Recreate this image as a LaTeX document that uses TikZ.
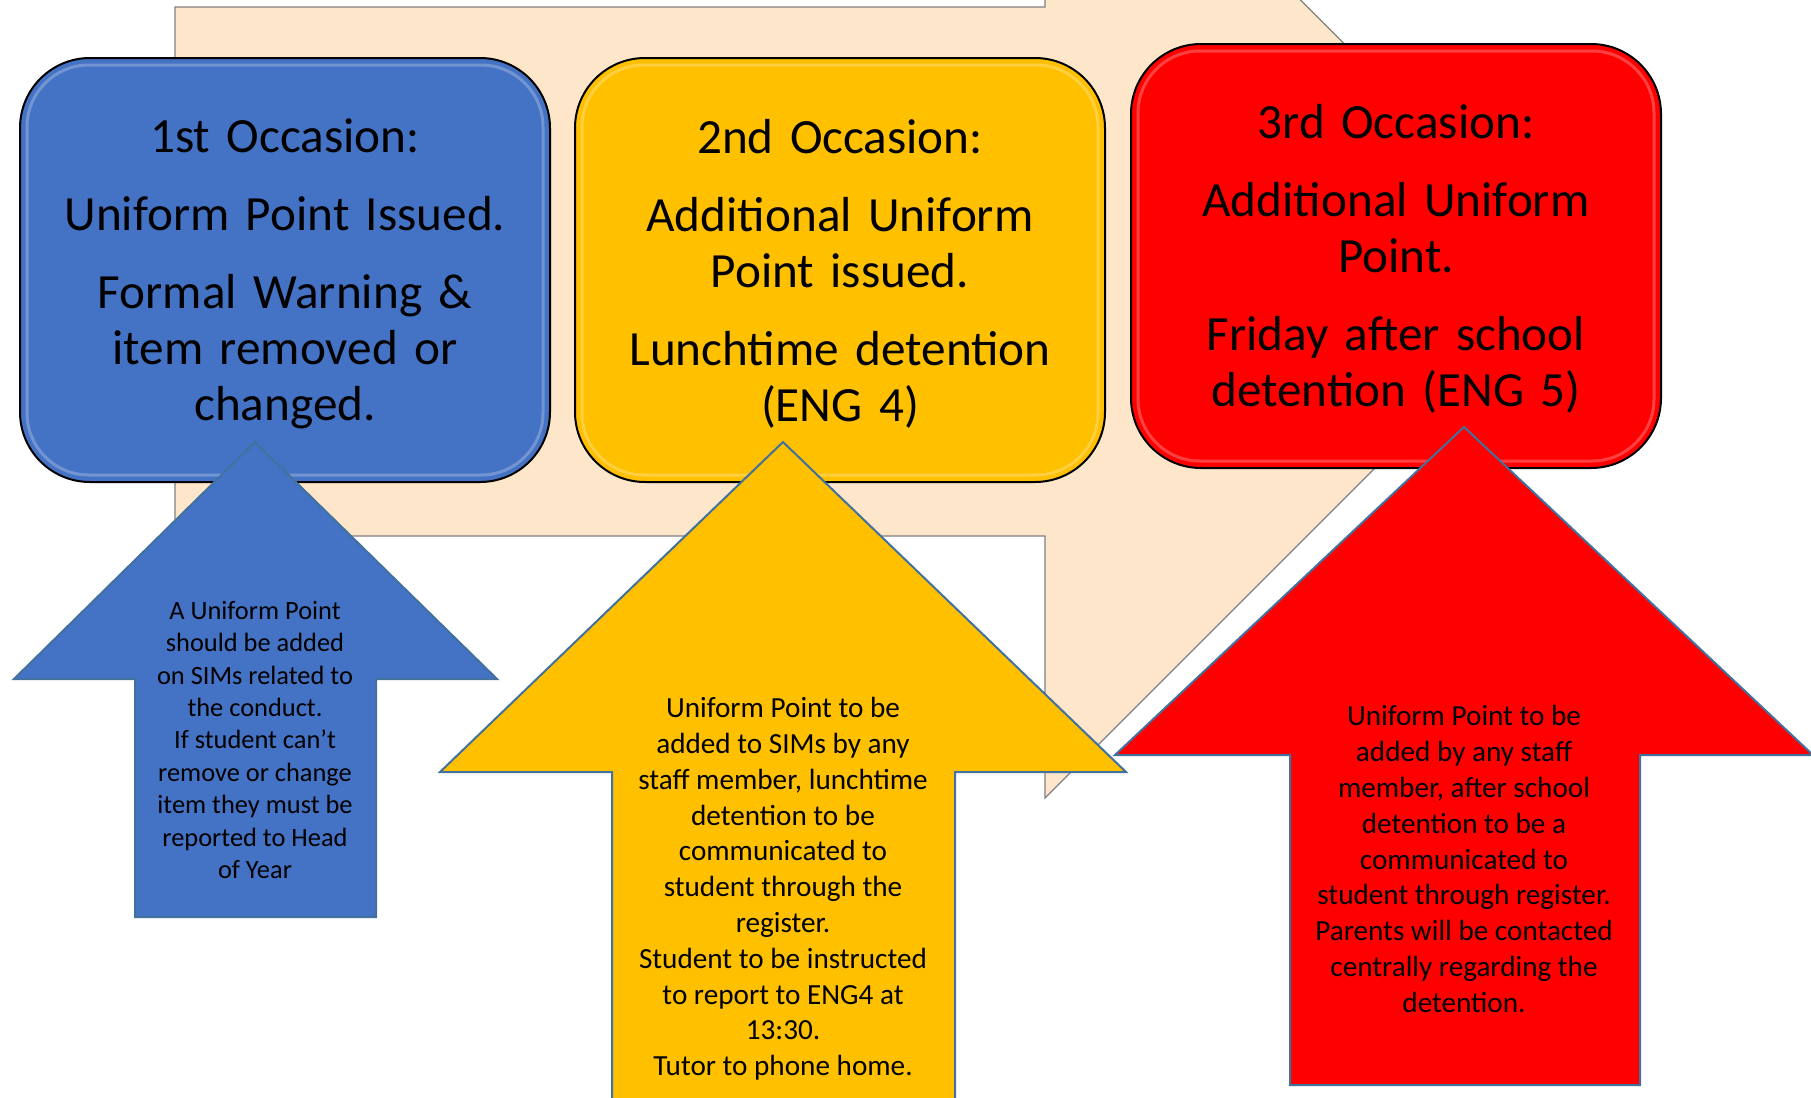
\documentclass[tikz,border=0pt]{standalone}
\usepackage{fontspec}
\setmainfont{Carlito}
\usepackage{tikz}
\definecolor{occblue}{HTML}{4472C4}
\definecolor{occyellow}{HTML}{FFC000}
\definecolor{occred}{HTML}{FF0000}
\definecolor{flowbg}{HTML}{FDE6CA}
\definecolor{arrowedge}{HTML}{41719C}

\begin{document}
\begin{tikzpicture}[x=0.5pt,y=-0.5pt,
        occasion/.style={draw=black, line width=1pt, rounded corners=35pt,
                minimum width=265pt, minimum height=212pt, align=center,
                text width=258pt, font=\fontsize{24.6}{28}\selectfont},
        gloss/.style={draw=white, opacity=0.25, line width=1.5pt, rounded corners=31pt},
        uparrow/.style={draw=arrowedge, line width=1pt},
        arrowtext/.style={align=center, font=\fontsize{14.6}{17.9}\selectfont}]
        \useasboundingbox (0,0) rectangle (1811,1098);
        \clip (0,0) rectangle (1811,1098);

        % big arrow behind the three occasions
        \filldraw[fill=flowbg, draw=gray, line width=0.6pt]
                (175,7) -- (1045,7) -- (1045,-255) -- (1572,271)
                -- (1045,798) -- (1045,536) -- (175,536) -- cycle;

        \node[occasion, fill=occblue] (first) at (285,270) {};
        \node[occasion, fill=occyellow] (second) at (840,270) {};
        \node[occasion, fill=occred] (third) at (1396,256) {};
        \foreach \b in {first,second,third}
                \draw[gloss] ([shift={(4pt,-4pt)}]\b.north west) rectangle ([shift={(-4pt,4pt)}]\b.south east);

        \node[occasion, draw=none] (firsttext) at (285,274)
                {1st Occasion:\\[11pt] Uniform Point Issued.\\[11pt]
                 Formal Warning \&\\ item removed or\\ changed.};
        \node[occasion, draw=none] (secondtext) at (840,274)
                {2nd Occasion:\\[11pt] Additional Uniform\\ Point issued.\\[11pt]
                 Lunchtime detention\\ (ENG 4)};
        \node[occasion, draw=none] (thirdtext) at (1396,259)
                {3rd Occasion:\\[11pt] Additional Uniform\\ Point.\\[11pt]
                 Friday after school\\ detention (ENG 5)};

        % up arrows
        \filldraw[uparrow, fill=occblue] (255,442) -- (497,679) -- (376,679) -- (376,917)
                -- (135,917) -- (135,679) -- (14,679) -- cycle;
        \filldraw[uparrow, fill=occyellow] (783,442) -- (1126,772) -- (955,772) -- (955,1110)
                -- (612,1110) -- (612,772) -- (440,772) -- cycle;
        \filldraw[uparrow, fill=occred] (1464,427) -- (1813,755) -- (1640,755) -- (1640,1085)
                -- (1290,1085) -- (1290,755) -- (1115,755) -- cycle;

        \node[arrowtext, font=\fontsize{13.2}{16.2}\selectfont] (bluetext) at (255,740)
                {A Uniform Point\\ should be added\\ on SIMs related to\\ the conduct.\\
                 If student can’t\\ remove or change\\ item they must be\\ reported to Head\\ of Year};
        \node[arrowtext] (yellowtext) at (783,889)
                {Uniform Point to be\\ added to SIMs by any\\ staff member, lunchtime\\ detention to be\\
                 communicated to\\ student through the\\ register.\\ Student to be instructed\\
                 to report to ENG4 at\\ 13:30.\\ Tutor to phone home.};
        \node[arrowtext] (redtext) at (1464,859)
                {Uniform Point to be\\ added by any staff\\ member, after school\\ detention to be a\\
                 communicated to\\ student through register.\\ Parents will be contacted\\
                 centrally regarding the\\ detention.};
\end{tikzpicture}
\end{document}
